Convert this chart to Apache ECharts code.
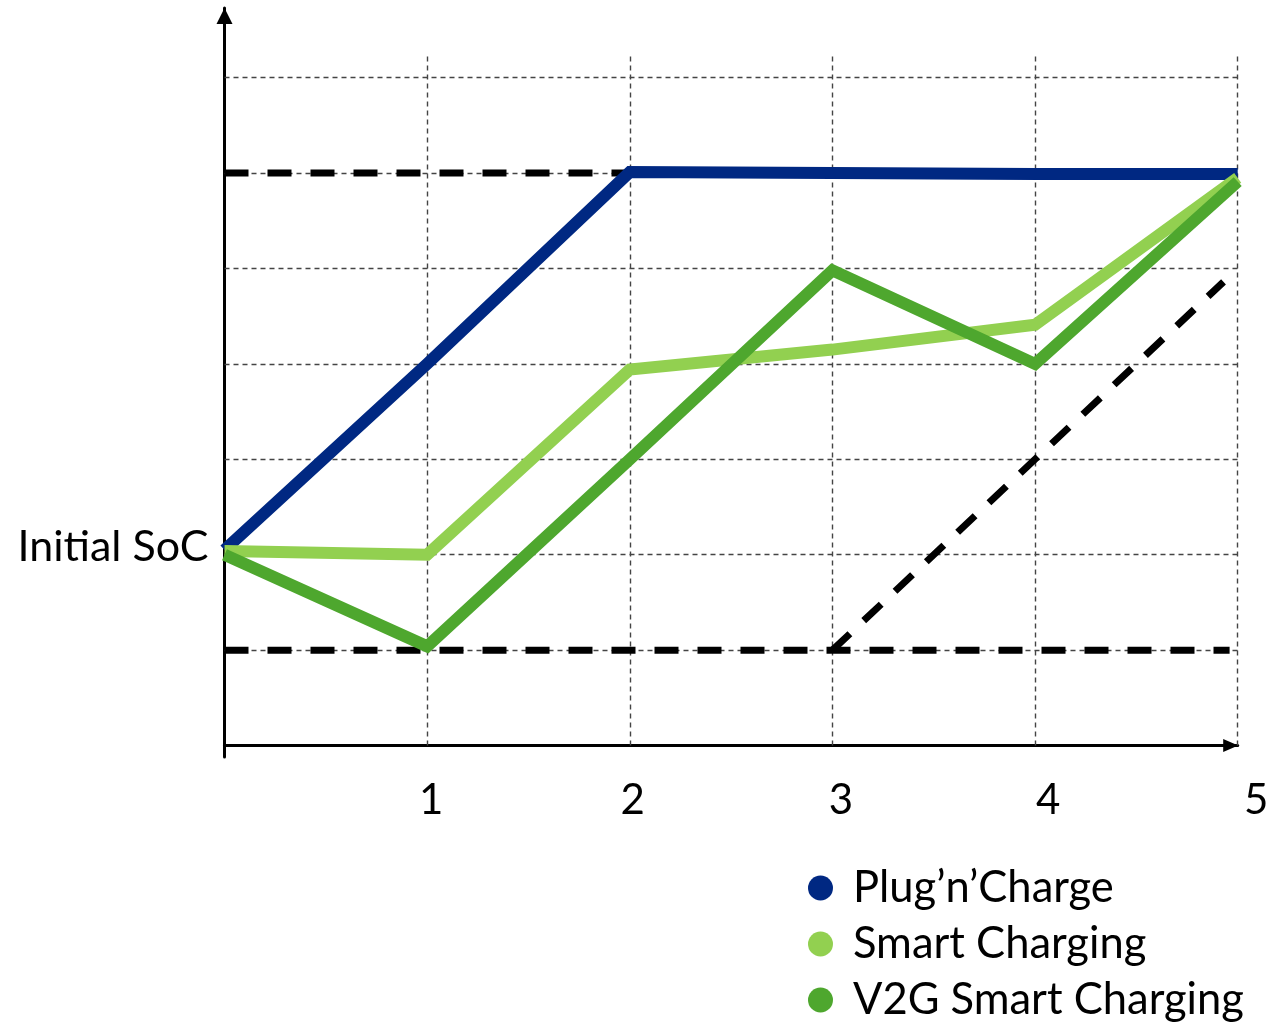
<!DOCTYPE html>
<html>
<head>
<meta charset="utf-8">
<script src="https://cdn.jsdelivr.net/npm/echarts@6/dist/echarts.min.js"></script>
<style>
  html, body { margin: 0; padding: 0; background: #fff; }
  #chart { width: 1288px; height: 1025px; }
</style>
</head>
<body>
<div id="chart"></div>
<script>
// Time steps and state-of-charge trajectories
const steps = [0, 1, 2, 3, 4, 5];
const plugCharge = [2.05, 4.0, 6.01, 6.0, 5.99, 5.99];
const smartCharging = [2.04, 2.0, 3.94, 4.15, 4.41, 5.95];
const v2gCharging = [2.0, 1.04, 3.0, 4.98, 4.0, 5.91];

// SoC limits: upper bound, lower bound and minimum charging path
const maxSoCX = [0, 2];
const maxSoCY = [6, 6];
const minSoCX = [0, 4.96];
const minSoCY = [1, 1];
const minPathX = [3, 4, 4.93];
const minPathY = [1, 3, 4.86];

// Grid levels and tick labels
const gridLevels = [1, 2, 3, 4, 5, 6, 7];
const gridSteps = [1, 2, 3, 4, 5];
const gridTop = 7.24;
const xTickLabels = ['', '1', '2', '3', '4', '5'];

const seriesNames = ['Plug\u2019n\u2019Charge', 'Smart Charging', 'V2G Smart Charging'];
const initialLabel = 'Initial SoC';

const FONT = 'Lato';
const colors = ['#002882', '#92d050', '#4ea72e'];

const toPairs = (xs, ys) => xs.map((x, i) => [x, ys[i]]);

const gridLines = [];
gridLevels.forEach(y => gridLines.push([{ coord: [0, y] }, { coord: [5, y] }]));
gridSteps.forEach(x => gridLines.push([{ coord: [x, 0] }, { coord: [x, gridTop] }]));

// per-label left padding (label sits a little right of its tick)
const labelPad = [0, 8, 6, 17, 26, 37];
const rich = {};
xTickLabels.forEach((t, i) => {
  rich['t' + i] = { fontFamily: FONT, fontSize: 42, color: '#000', padding: [0, 0, 0, labelPad[i]] };
});

const dashedLimit = (name, xs, ys) => ({
  name: name,
  type: 'line',
  data: toPairs(xs, ys),
  showSymbol: false,
  symbol: 'none',
  silent: true,
  z: 3,
  lineStyle: { color: '#000', width: 7, type: [24, 19], cap: 'butt' }
});

const trajectory = (idx, values, extra) => Object.assign({
  name: seriesNames[idx],
  type: 'line',
  data: toPairs(steps, values),
  showSymbol: false,
  symbol: 'none',
  z: 5,
  itemStyle: { color: colors[idx] },
  lineStyle: { color: colors[idx], width: 12, join: 'miter', cap: 'butt' }
}, extra || {});

const chart = echarts.init(document.getElementById('chart'), null, { renderer: 'canvas' });

chart.setOption({
  animation: false,
  backgroundColor: '#fff',
  grid: { left: 224.5, right: 50.3, top: 8, bottom: 268, containLabel: false },
  legend: {
    data: seriesNames,
    orient: 'vertical',
    left: 808,
    top: 866,
    padding: 0,
    itemGap: 12,
    itemWidth: 25,
    itemHeight: 25,
    icon: 'circle',
    selectedMode: false,
    textStyle: { fontFamily: FONT, fontSize: 43.5, color: '#000', lineHeight: 44, padding: [0, 0, 0, 15] }
  },
  xAxis: {
    type: 'value',
    min: 0,
    max: 5,
    interval: 1,
    axisLine: {
      show: true,
      onZero: true,
      symbol: ['none', 'triangle'],
      symbolSize: [13, 15],
      symbolOffset: [0, -7],
      lineStyle: { color: '#000', width: 3 }
    },
    axisTick: { show: false },
    splitLine: { show: false },
    axisLabel: {
      margin: 22,
      formatter: v => {
        const t = xTickLabels[v];
        return t ? '{t' + v + '|' + t + '}' : '';
      },
      rich: rich
    }
  },
  yAxis: {
    type: 'value',
    min: -0.12,
    max: 7.73,
    axisLine: {
      show: true,
      onZero: false,
      symbol: ['none', 'triangle'],
      symbolSize: [16, 16],
      symbolOffset: [0, -8],
      lineStyle: { color: '#000', width: 3 }
    },
    axisTick: { show: false },
    axisLabel: { show: false },
    splitLine: { show: false }
  },
  series: [
    {
      name: 'grid',
      type: 'line',
      data: [],
      silent: true,
      z: 1,
      markLine: {
        z: 1,
        silent: true,
        symbol: ['none', 'none'],
        label: { show: false },
        lineStyle: { color: '#444', width: 1.4, type: [5, 4] },
        data: gridLines
      }
    },
    dashedLimit('max', maxSoCX, maxSoCY),
    dashedLimit('min', minSoCX, minSoCY),
    dashedLimit('path', minPathX, minPathY),
    trajectory(0, plugCharge, {
      showSymbol: true,
      symbol: 'circle',
      symbolSize: 0,
      label: {
        show: true,
        position: 'left',
        distance: 16,
        offset: [0, -3],
        fontFamily: FONT,
        fontSize: 43,
        color: '#000',
        formatter: p => (p.dataIndex === 0 ? initialLabel : '')
      }
    }),
    trajectory(1, smartCharging),
    trajectory(2, v2gCharging, { z: 6 })
  ]
});
</script>
</body>
</html>
